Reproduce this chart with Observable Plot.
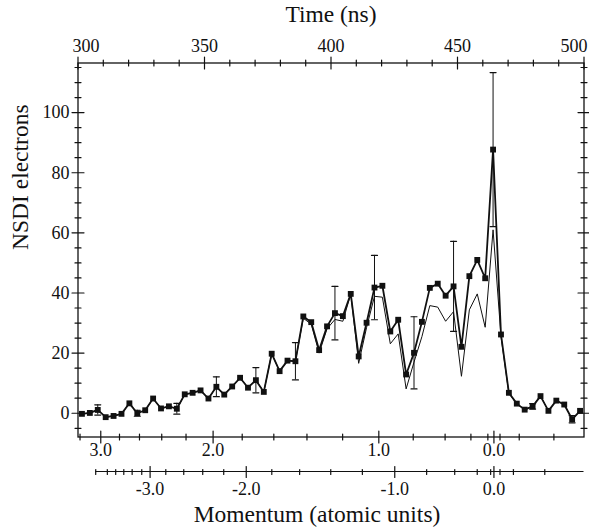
<!DOCTYPE html>
<html><head><meta charset="utf-8">
<script src="https://cdn.jsdelivr.net/npm/d3@7"></script>
<script src="https://cdn.jsdelivr.net/npm/@observablehq/plot@0.6"></script>
<style>body{margin:0;background:#fff;} #chart svg{display:block;}</style>
</head><body><div id="chart"></div>
<script>
// ---- data ----
const time = [301.56,304.69,307.81,310.94,314.06,317.19,320.31,323.44,326.56,329.69,
  332.81,335.94,339.06,342.19,345.31,348.44,351.56,354.69,357.81,360.94,
  364.06,367.19,370.31,373.44,376.56,379.69,382.81,385.94,389.06,392.19,
  395.31,398.44,401.56,404.69,407.81,410.94,414.06,417.19,420.31,423.44,
  426.56,429.69,432.81,435.94,439.06,442.19,445.31,448.44,451.56,454.69,
  457.81,460.94,464.06,467.19,470.31,473.44,476.56,479.69,482.81,485.94,
  489.06,492.19,495.31,498.44];
const nsdi = [-0.2,0.1,1.1,-1.3,-0.9,-0.2,3.3,0.0,1.0,4.9,
  1.6,2.3,1.5,6.3,6.8,7.6,4.9,8.8,6.2,8.9,
  11.8,8.5,11.0,7.1,19.8,14.0,17.5,17.3,32.2,30.3,
  21.0,28.9,33.3,32.3,39.7,18.9,30.1,41.8,42.4,27.2,
  31.1,12.9,20.1,30.4,41.7,43.1,39.1,42.2,22.1,45.6,
  51.0,44.9,87.7,26.2,6.8,3.2,1.2,2.3,5.7,0.8,
  4.2,2.9,-2.0,0.8];
const nsdiThin = [-0.2,0.1,1.1,-1.3,-0.9,-0.2,3.3,0.0,1.0,4.9,
  1.6,2.3,1.5,6.3,6.8,7.6,4.9,8.8,6.2,8.9,
  11.8,8.5,11.0,7.1,19.8,14.0,17.5,17.3,31.6,29.6,
  20.0,28.1,31.2,30.6,39.7,16.6,28.5,38.9,38.6,23.1,
  26.4,8.1,17.0,25.5,35.8,35.3,30.6,33.8,12.3,34.4,
  39.7,28.6,61.0,25.5,6.6,3.1,1.2,2.3,5.7,0.8,
  4.2,2.9,-2.0,0.8];
const errIndex = [2,7,12,17,22,27,32,37,42,47,52,57,62];
const errSize  = [1.7,1.0,1.8,3.3,4.2,6.2,8.9,10.7,12.0,15.0,25.6,0.9,1.2];

// axis ticks
const timeMajor = [300,350,400,450,500];
const timeLabelShift = [8,0,0,0,-10];
const timeMinor = [310,320,330,340,360,370,380,390,410,420,430,440,460,470,480,490];
const yMajor = [0,20,40,60,80,100];
const yMinor = [-5,5,10,15,25,30,35,45,50,55,65,70,75,85,90,95,105,110,115];
// momentum axis 1 (inside frame bottom), positions in ns
const p1Labels = ["3.0","2.0","1.0","0.0"];
const p1Major = [309.0,353.4,418.9,464.4];
const p1Minor = [300.8,316.4,324.3,333.1,342.7,364.9,377.4,390.5,404.6,432.5,445.1,455.3,462.0,466.8,474.4,488.1];
// momentum axis 2 (lower), positions in ns
const p2Labels = ["-3.0","-2.0","-1.0","0.0"];
const p2Major = [328.5,366.5,425.2,464.4];
const p2Minor = [307.0,311.6,314.9,318.1,321.4,325.2,334.7,341.8,349.3,357.6,376.6,387.6,399.9,412.4,437.8,448.9,457.8,463.1,466.8,472.1,484.5];
const p2Start = 307.0, p2End = 500;

// ---- build ----
const ink = "#111";
const font = "'Liberation Serif', 'Times New Roman', serif";
const tickShape = {draw(ctx, l) { ctx.moveTo(0, 0); ctx.lineTo(0, -l); }};
const rows = time.map((t, i) => ({t, v: nsdi[i], w: nsdiThin[i]}));
const errRows = errIndex.map((k, j) => ({t: time[k], lo: nsdi[k] - errSize[j], hi: nsdi[k] + errSize[j]}));
const capRows = errRows.flatMap(d => [{t: d.t, y: d.lo}, {t: d.t, y: d.hi}]);
const lowerDy = 35;
const tickFont = 18, titleFont = 23.5;

const timeLabelMarks = timeMajor.map((v, i) =>
  Plot.text([String(v)], {x: [v], frameAnchor: "top", dx: timeLabelShift[i], dy: -17, lineAnchor: "middle", fontSize: tickFont}));

const chart = Plot.plot({
  width: 589, height: 529,
  marginLeft: 77.5, marginRight: 5.5, marginTop: 62.5, marginBottom: 92.5,
  x: {domain: [300, 500], axis: null},
  y: {domain: [-7.9, 116.5], axis: null},
  style: {fontFamily: font, fontSize: tickFont + "px", color: ink, background: "white"},
  marks: [
    Plot.frame({stroke: ink, strokeWidth: 1.3}),
    // y ticks left & right (inward)
    Plot.vectorY(yMajor, {frameAnchor: "left", rotate: 90, length: 12, shape: tickShape, stroke: ink, strokeWidth: 1.2}),
    Plot.vectorY(yMinor, {frameAnchor: "left", rotate: 90, length: 6, shape: tickShape, stroke: ink, strokeWidth: 1.2}),
    Plot.vectorY(yMajor, {frameAnchor: "right", rotate: -90, length: 12, shape: tickShape, stroke: ink, strokeWidth: 1.2}),
    Plot.vectorY(yMinor, {frameAnchor: "right", rotate: -90, length: 6, shape: tickShape, stroke: ink, strokeWidth: 1.2}),
    // time ticks top (inward)
    Plot.vectorX(timeMajor, {frameAnchor: "top", rotate: 180, length: 12, shape: tickShape, stroke: ink, strokeWidth: 1.2}),
    Plot.vectorX(timeMinor, {frameAnchor: "top", rotate: 180, length: 6, shape: tickShape, stroke: ink, strokeWidth: 1.2}),
    // momentum axis 1 ticks (bottom, inward)
    Plot.vectorX(p1Major, {frameAnchor: "bottom", length: 12, shape: tickShape, stroke: ink, strokeWidth: 1.2}),
    Plot.vectorX(p1Minor, {frameAnchor: "bottom", length: 6, shape: tickShape, stroke: ink, strokeWidth: 1.2}),
    // momentum axis 2 ticks (below)
    Plot.vectorX(p2Major, {frameAnchor: "bottom", dy: lowerDy, length: 11, shape: tickShape, stroke: ink, strokeWidth: 1.2}),
    Plot.vectorX(p2Minor, {frameAnchor: "bottom", dy: lowerDy, length: 5, shape: tickShape, stroke: ink, strokeWidth: 1.2}),
    // tick labels
    Plot.axisY({anchor: "left", ticks: yMajor, tickSize: 0, tickPadding: 8.5, label: null, fontSize: tickFont}),
    ...timeLabelMarks,
    Plot.text(p1Labels, {x: p1Major, text: p1Labels, frameAnchor: "bottom", dy: 13, lineAnchor: "middle", fontSize: tickFont}),
    Plot.text(p2Labels, {x: p2Major, text: p2Labels, frameAnchor: "bottom", dy: 52, lineAnchor: "middle", fontSize: tickFont}),
    // titles
    Plot.text(["Time (ns)"], {frameAnchor: "top", dy: -49, lineAnchor: "middle", fontSize: titleFont}),
    Plot.text(["Momentum (atomic units)"], {frameAnchor: "bottom", dx: -14, dy: 77, lineAnchor: "middle", fontSize: titleFont}),
    Plot.text(["NSDI electrons"], {frameAnchor: "left", dx: -57.5, rotate: -90, lineAnchor: "middle", fontSize: titleFont}),
    // error bars
    Plot.ruleX(errRows, {x: "t", y1: "lo", y2: "hi", stroke: ink, strokeWidth: 1}),
    Plot.vector(capRows, {x: "t", y: "y", rotate: 90, anchor: "middle", length: 6, shape: tickShape, stroke: ink, strokeWidth: 1.2}),
    // series
    Plot.line(rows, {x: "t", y: "w", stroke: ink, strokeWidth: 1}),
    Plot.line(rows, {x: "t", y: "v", stroke: ink, strokeWidth: 1.8}),
    Plot.dot(rows, {x: "t", y: "v", symbol: "square", r: 3.3, fill: ink, stroke: null})
  ]
});

// baseline of the lower momentum axis, positioned through the plot's own x scale
const xs = chart.scale("x");
const yBase = 529 - 92.5 + lowerDy;
d3.select(chart).append("line")
  .attr("x1", xs.apply(p2Start)).attr("x2", xs.apply(p2End))
  .attr("y1", yBase).attr("y2", yBase)
  .attr("stroke", ink).attr("stroke-width", 1.2);

document.getElementById("chart").appendChild(chart);
</script>
</body></html>
